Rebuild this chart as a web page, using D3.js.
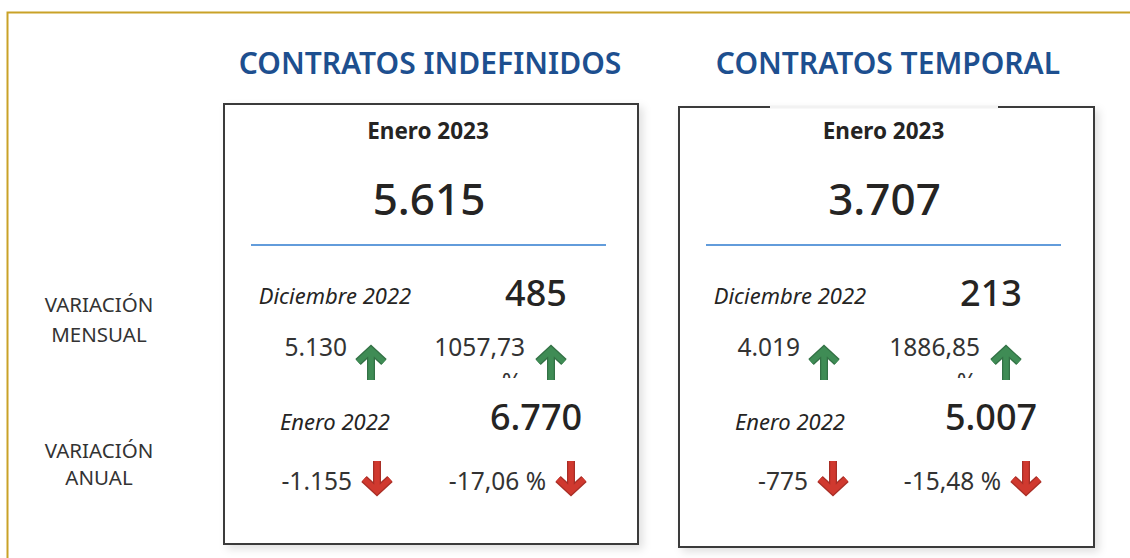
<!DOCTYPE html>
<html>
<head>
<meta charset="utf-8">
<script src="https://cdn.jsdelivr.net/npm/d3@7"></script>
<style>
  html, body { margin: 0; padding: 0; background: #fff; }
  svg { display: block; font-family: "Noto Sans", "Open Sans", sans-serif; }
</style>
</head>
<body>
<svg id="chart" width="1130" height="558"></svg>
<script>
// KPI cards: contratos indefinidos vs temporal
const titles = ["CONTRATOS INDEFINIDOS", "CONTRATOS TEMPORAL"];
const currentLabel = "Enero 2023";
const prevMonthLabel = "Diciembre 2022";
const prevYearLabel = "Enero 2022";
const currentValues = [5615, 3707];
const prevMonthValues = [485, 213];
const monthDiff = [5130, 4019];
const monthPct = [1057.73, 1886.85];
const prevYearValues = [6770, 5007];
const yearDiff = [-1155, -775];
const yearPct = [-17.06, -15.48];
const rowLabels = [["VARIACIÓN", "MENSUAL"], ["VARIACIÓN", "ANUAL"]];

const es = d3.formatLocale({ decimal: ",", thousands: ".", grouping: [3], currency: ["", " €"], minus: "-" });
const fmtInt = es.format(",d");
const fmtPct = es.format(".2f");

const svg = d3.select("#chart");
const W = 1130, H = 558;
const ink = "#252423";

const defs = svg.append("defs");
const shadow = defs.append("filter").attr("id", "shadow")
  .attr("x", "-5%").attr("y", "-5%").attr("width", "115%").attr("height", "115%");
shadow.append("feDropShadow").attr("dx", 4).attr("dy", 4).attr("stdDeviation", 4)
  .attr("flood-color", "#000").attr("flood-opacity", 0.12);

// outer gold frame (only top and left visible)
svg.append("path")
  .attr("d", `M7.5,${H} V12.5 H${W}`)
  .attr("fill", "none").attr("stroke", "#c9a227").attr("stroke-width", 2);

// card layout
const cards = [
  { x0: 224, x1: 638, y0: 104, y1: 544, title: 430 },
  { x0: 679, x1: 1094, y0: 107, y1: 547, title: 888 }
];

// left side row labels
const labelY = [[312, 342], [458, 485]];
rowLabels.forEach((lines, i) => {
  lines.forEach((t, j) => {
    svg.append("text")
      .attr("x", 99).attr("y", labelY[i][j])
      .attr("text-anchor", "middle")
      .attr("font-size", 20.5).attr("fill", "#333")
      .text(t);
  });
});

function arrow(g, cx, top, up, color) {
  const h = 32, hw = 13, head = 13;
  const a = g.append("g").attr("transform", `translate(${cx},${top})`);
  const d = up
    ? `M0,${h} V2 M${-hw},${head + 1} L0,2 L${hw},${head + 1}`
    : `M0,0 V${h - 2} M${-hw},${h - head - 1} L0,${h - 2} L${hw},${h - head - 1}`;
  a.append("path").attr("d", d).attr("fill", "none")
    .attr("stroke", d3.color(color).darker(0.6)).attr("stroke-width", 8)
    .attr("stroke-linejoin", "miter");
  a.append("path").attr("d", d).attr("fill", "none")
    .attr("stroke", color).attr("stroke-width", 5.5)
    .attr("stroke-linejoin", "miter");
}

const green = "#3f8c55", red = "#d0392f";

cards.forEach((c, i) => {
  const cx = (c.x0 + c.x1) / 2;
  const g = svg.append("g");

  // title
  g.append("text").attr("x", c.title).attr("y", 74)
    .attr("text-anchor", "middle").attr("font-size", 30).attr("font-weight", 600)
    .attr("fill", "#1d4f8f").text(titles[i]);

  // card
  g.append("rect").attr("x", c.x0).attr("y", c.y0)
    .attr("width", c.x1 - c.x0).attr("height", c.y1 - c.y0)
    .attr("fill", "#fff").attr("stroke", "#3a3a3a").attr("stroke-width", 2)
    .attr("filter", "url(#shadow)");
  if (i === 1) {
    // gap in the top border of the second card
    g.append("rect").attr("x", 770).attr("y", c.y0 - 1.5).attr("width", 228).attr("height", 3)
      .attr("fill", "#f2f2f2");
  }

  g.append("text").attr("x", cx - 3).attr("y", 139)
    .attr("text-anchor", "middle").attr("font-size", 22.5).attr("font-weight", 700)
    .attr("fill", ink).text(currentLabel);

  g.append("text").attr("x", cx - 2).attr("y", 215)
    .attr("text-anchor", "middle").attr("font-size", 44).attr("font-weight", 500)
    .attr("fill", ink).text(fmtInt(currentValues[i]));

  g.append("line").attr("x1", c.x0 + 27).attr("x2", c.x0 + 382)
    .attr("y1", 245).attr("y2", 245)
    .attr("stroke", "#2e7bcf").attr("stroke-width", 1.5);

  // monthly block
  g.append("text").attr("x", c.x0 + 111).attr("y", 304)
    .attr("text-anchor", "middle").attr("font-size", 22).attr("font-style", "italic")
    .attr("fill", ink).text(prevMonthLabel);
  g.append("text").attr("x", c.x0 + 312).attr("y", 306)
    .attr("text-anchor", "middle").attr("font-size", 36).attr("font-weight", 500)
    .attr("fill", ink).text(fmtInt(prevMonthValues[i]));

  const diffRight = [347, 800][i];
  g.append("text").attr("x", diffRight).attr("y", 356)
    .attr("text-anchor", "end").attr("font-size", 24.5)
    .attr("fill", "#333").text(fmtInt(monthDiff[i]));
  arrow(g, diffRight + 24, 348, monthDiff[i] >= 0, monthDiff[i] >= 0 ? green : red);

  const pctRight = [525, 980][i];
  g.append("text").attr("x", pctRight).attr("y", 356)
    .attr("text-anchor", "end").attr("font-size", 24.5)
    .attr("fill", "#333").text(fmtPct(monthPct[i]));
  const clipId = "clip" + i;
  defs.append("clipPath").attr("id", clipId).append("rect")
    .attr("x", pctRight - 60).attr("y", 360).attr("width", 80).attr("height", 18);
  g.append("text").attr("x", pctRight - 3).attr("y", 391)
    .attr("text-anchor", "end").attr("font-size", 24.5).attr("clip-path", `url(#${clipId})`)
    .attr("fill", "#333").text("%");
  arrow(g, pctRight + 26, 348, monthPct[i] >= 0, monthPct[i] >= 0 ? green : red);

  // yearly block
  g.append("text").attr("x", c.x0 + 111).attr("y", 430)
    .attr("text-anchor", "middle").attr("font-size", 22).attr("font-style", "italic")
    .attr("fill", ink).text(prevYearLabel);
  g.append("text").attr("x", c.x0 + 312).attr("y", 430)
    .attr("text-anchor", "middle").attr("font-size", 36).attr("font-weight", 500)
    .attr("fill", ink).text(fmtInt(prevYearValues[i]));

  const ydRight = [352, 808][i];
  g.append("text").attr("x", ydRight).attr("y", 490)
    .attr("text-anchor", "end").attr("font-size", 24.5)
    .attr("fill", "#333").text(fmtInt(yearDiff[i]));
  arrow(g, ydRight + 25, 461, yearDiff[i] >= 0, yearDiff[i] >= 0 ? green : red);

  const ypRight = [546, 1001][i];
  g.append("text").attr("x", ypRight).attr("y", 490)
    .attr("text-anchor", "end").attr("font-size", 24.5)
    .attr("fill", "#333").text(fmtPct(yearPct[i]) + " %");
  arrow(g, ypRight + 25, 461, yearPct[i] >= 0, yearPct[i] >= 0 ? green : red);
});
</script>
</body>
</html>
